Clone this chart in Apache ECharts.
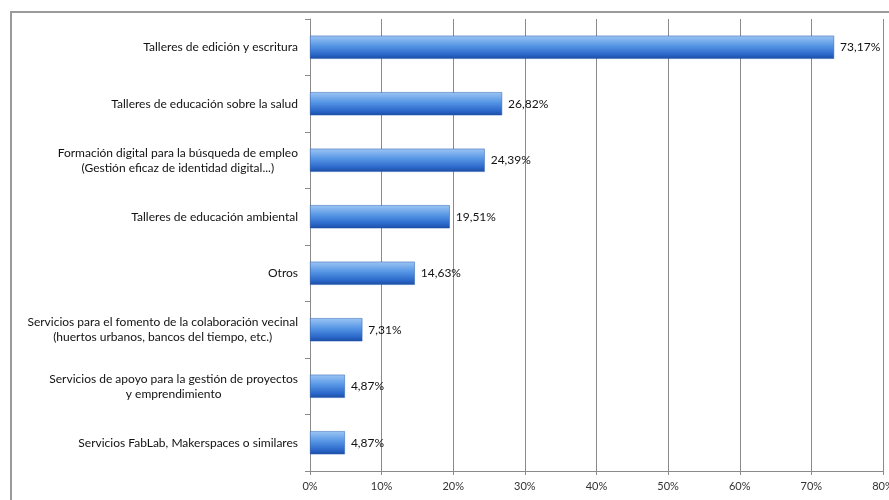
<!DOCTYPE html>
<html>
<head>
<meta charset="utf-8">
<script src="https://cdn.jsdelivr.net/npm/echarts@6/dist/echarts.min.js"></script>
<style>
html,body{margin:0;padding:0;background:#fff;}
#c{width:889px;height:500px;}
</style>
</head>
<body>
<div id="c"></div>
<script>
const categories = [
  'Talleres de edición y escritura',
  'Talleres de educación sobre la salud',
  'Formación digital para la búsqueda de empleo\n(Gestión eficaz de identidad digital...)',
  'Talleres de educación ambiental',
  'Otros',
  'Servicios para el fomento de la colaboración vecinal\n(huertos urbanos, bancos del tiempo, etc.)',
  'Servicios de apoyo para la gestión de proyectos\ny emprendimiento',
  'Servicios FabLab, Makerspaces o similares'
];
const values = [73.17, 26.82, 24.39, 19.51, 14.63, 7.31, 4.87, 4.87];
const xTickLabels = ['0%','10%','20%','30%','40%','50%','60%','70%','80%'];

const FONT = 'Lato';
const chart = echarts.init(document.getElementById('c'), null, {renderer:'canvas'});
chart.setOption({
  animation: false,
  backgroundColor: '#fff',
  graphic: [{
    type: 'rect',
    shape: {x: 11, y: 12, width: 900, height: 520},
    style: {fill: 'none', stroke: '#9a9a9a', lineWidth: 2},
    silent: true
  }],
  grid: {left: 310, right: 6, top: 19, bottom: 29, containLabel: false, outerBoundsMode: 'none'},
  xAxis: {
    type: 'value', min: 0, max: 80, interval: 10,
    axisLine: {show: true, lineStyle: {color: '#8a8a8a', width: 1}},
    axisTick: {show: true, length: 4, lineStyle: {color: '#8a8a8a'}},
    splitLine: {show: true, lineStyle: {color: '#8a8a8a', width: 1}},
    axisLabel: {
      formatter: function(v){ return xTickLabels[Math.round(v/10)]; },
      fontFamily: FONT, fontSize: 11, color: '#333', margin: 10,
      alignMaxLabel: 'center', alignMinLabel: 'center', hideOverlap: false
    }
  },
  yAxis: {
    type: 'category', data: categories, inverse: true,
    axisLine: {show: true, lineStyle: {color: '#8a8a8a', width: 1}},
    axisTick: {show: true, length: 5, lineStyle: {color: '#8a8a8a'}},
    splitLine: {show: false},
    axisLabel: {
      margin: 12,
      formatter: function(v){ return v.split('\n').map(function(s){ return '{c|' + s + '}'; }).join('\n'); },
      rich: {c: {align: 'center', fontFamily: FONT, fontSize: 12, color: '#111', lineHeight: 15}}
    }
  },
  series: [{
    type: 'bar',
    data: values,
    barCategoryGap: '59%',
    itemStyle: {
      color: new echarts.graphic.LinearGradient(0, 0, 0, 1, [
        {offset: 0, color: '#9cc6f4'},
        {offset: 0.45, color: '#5494e4'},
        {offset: 0.8, color: '#2c69cb'},
        {offset: 1, color: '#1a4ca3'}
      ]),
      borderColor: '#2a5cb0', borderWidth: 0.5
    },
    label: {
      show: true, position: 'right', distance: 6,
      formatter: function(p){ return p.value.toFixed(2).replace('.', ',') + '%'; },
      fontFamily: FONT, fontSize: 12, color: '#111'
    }
  }]
});
</script>
</body>
</html>
